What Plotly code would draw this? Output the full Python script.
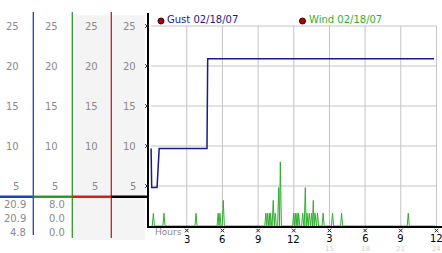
import plotly.graph_objects as go

W, H = 442, 253

# ---------------- data ----------------
gust_hours = [0.0, 0.05, 0.5, 0.68, 4.7, 4.76, 23.8]
gust_values = [9.7, 4.8, 4.8, 9.7, 9.7, 20.9, 20.9]

wind_spike_hours = [0.19, 1.08, 3.78, 5.64, 5.79, 6.07,
                    9.65, 9.78, 9.94, 10.05, 10.27, 10.44, 10.73, 10.87,
                    11.99, 12.13, 12.27, 12.41, 12.75, 12.97, 13.11, 13.3,
                    13.5, 13.64, 13.78, 14.0, 14.47, 15.26, 16.02, 21.63]
wind_spike_values = [1.6, 1.6, 1.6, 1.6, 1.6, 3.2,
                     1.6, 1.6, 1.6, 1.6, 3.2, 1.6, 4.8, 8.0,
                     1.6, 1.6, 1.6, 1.6, 1.6, 4.8, 1.6, 1.6,
                     1.6, 3.2, 1.6, 1.6, 1.6, 1.6, 1.6, 1.6]
wind_start, wind_end = 0.0, 23.9

y_ticks = [5, 10, 15, 20, 25]
hour_ticks = [3, 6, 9, 12, 15, 18, 21, 24]
hour_labels = ["3", "6", "9", "12", "3", "6", "9", "12"]
hour_labels_faint = ["", "", "", "", "15", "18", "21", "24"]

gust_stats = ["20.9", "20.9", "4.8"]
wind_stats = ["8.0", "0.0", "0.0"]
legend_names = ["Gust 02/18/07", "Wind 02/18/07"]

GUST_COLOR = "#1a1a8c"
WIND_COLOR = "#2fae2f"
GRAY_TXT = "#8a8a8a"

# build wind trace (zero baseline with spikes)
wx, wy = [wind_start], [0.0]
n = len(wind_spike_hours)
for i, (t, v) in enumerate(zip(wind_spike_hours, wind_spike_values)):
    prev_gap = t - wind_spike_hours[i - 1] if i > 0 else 1
    next_gap = wind_spike_hours[i + 1] - t if i < n - 1 else 1
    wl = min(0.09, prev_gap / 2)
    wr = min(0.09, next_gap / 2)
    if wx[-1] < t - wl:
        wx.append(t - wl); wy.append(0.0)
    wx.append(t); wy.append(v)
    wx.append(t + wr); wy.append(0.0)
wx.append(wind_end); wy.append(0.0)

# ---------------- geometry ----------------
def fx(px):
    return px / W

def fy(py):
    return 1 - py / H

x_px0 = 151.1       # pixel of hour 0
px_per_h = 11.89
y_px0 = 226.0       # pixel of value 0
px_per_u = 8.0
xr = [(149 - x_px0) / px_per_h, (W - x_px0) / px_per_h]
yr = [0, (y_px0 - 13) / px_per_u]

fig = go.Figure()
fig.add_trace(go.Scatter(x=wx, y=wy, mode="lines",
                         line=dict(color=WIND_COLOR, width=1), hoverinfo="skip"))
fig.add_trace(go.Scatter(x=gust_hours, y=gust_values, mode="lines",
                         line=dict(color=GUST_COLOR, width=1.5), hoverinfo="skip"))

shapes = []
annotations = []

def cross(px, py, r=1.8):
    return dict(type="path", xref="paper", yref="paper",
                path=(f"M {fx(px - r)},{fy(py - r)} L {fx(px + r)},{fy(py + r)} "
                      f"M {fx(px - r)},{fy(py + r)} L {fx(px + r)},{fy(py - r)}"),
                line=dict(color="#202020", width=1))

# tick marks (small crosses)
for yt in y_ticks:
    shapes.append(cross(147, y_px0 - yt * px_per_u))
for ht in hour_ticks:
    shapes.append(cross(x_px0 + ht * px_per_h, 230.5))

# grid
for yt in y_ticks:
    shapes.append(dict(type="line", xref="x", yref="y", x0=0, x1=24, y0=yt, y1=yt,
                       line=dict(color="#c4c4c4", width=1), layer="below"))
for ht in hour_ticks:
    shapes.append(dict(type="line", xref="x", yref="y", x0=ht, x1=ht, y0=0, y1=25,
                       line=dict(color="#c4c4c4", width=1), layer="below"))

# left panel background
shapes.append(dict(type="rect", xref="paper", yref="paper", x0=fx(73), x1=fx(145),
                   y0=fy(240), y1=fy(15), fillcolor="#f4f4f4", line=dict(width=0), layer="below"))
# vertical colored lines
for px, col, yb in [(33.3, "#1f3fbf", 235), (72.3, "#2a9a2a", 238), (111.3, "#c02020", 238)]:
    shapes.append(dict(type="line", xref="paper", yref="paper", x0=fx(px), x1=fx(px),
                       y0=fy(yb), y1=fy(12), line=dict(color=col, width=1.3)))
# horizontal segmented line
for x0, x1, col in [(0, 33.3, "#1f3fbf"), (33.3, 72.3, "#2a9a2a"),
                    (72.3, 111.3, "#d02020"), (111.3, 149, "#000000")]:
    shapes.append(dict(type="line", xref="paper", yref="paper", x0=fx(x0), x1=fx(x1),
                       y0=fy(196.8), y1=fy(196.8), line=dict(color=col, width=2.6)))

# left column tick labels
for right_px in [20.5, 60, 99.5, 138]:
    for yt in y_ticks:
        annotations.append(dict(xref="paper", yref="y", x=fx(right_px), y=yt,
                                text=str(yt), showarrow=False, xanchor="right", yanchor="middle",
                                font=dict(size=10, color=GRAY_TXT)))
# stats
for i, (g, w) in enumerate(zip(gust_stats, wind_stats)):
    ypx = 204.5 + i * 14
    annotations.append(dict(xref="paper", yref="paper", x=fx(27.5), y=fy(ypx), text=g,
                            showarrow=False, xanchor="right", yanchor="middle",
                            font=dict(size=10, color=GRAY_TXT)))
    annotations.append(dict(xref="paper", yref="paper", x=fx(67), y=fy(ypx), text=w,
                            showarrow=False, xanchor="right", yanchor="middle",
                            font=dict(size=10, color=GRAY_TXT)))

# legend
for cx, name, col in [(161, legend_names[0], GUST_COLOR), (302.5, legend_names[1], WIND_COLOR)]:
    shapes.append(dict(type="circle", xref="paper", yref="paper",
                       x0=fx(cx - 3), x1=fx(cx + 3), y0=fy(24), y1=fy(18),
                       fillcolor="#b00000", line=dict(color="#300000", width=1)))
    annotations.append(dict(xref="paper", yref="paper", x=fx(cx + 4), y=fy(19.5), text=name,
                            showarrow=False, xanchor="left", yanchor="middle",
                            font=dict(size=10, color=col)))

# x labels
annotations.append(dict(xref="paper", yref="paper", x=fx(152.5), y=fy(232), text="Hours",
                        showarrow=False, xanchor="left", yanchor="middle",
                        font=dict(size=9, color=GRAY_TXT)))
for ht, lab, flab in zip(hour_ticks, hour_labels, hour_labels_faint):
    if flab:
        txt = f"<span style='font-size:10px;color:black'>{lab}</span><br>{flab}"
        annotations.append(dict(xref="x", yref="paper", x=ht, y=fy(231.5), text=txt,
                                showarrow=False, xanchor="center", yanchor="top",
                                borderpad=0, font=dict(size=7, color="#d0d0d0")))
    else:
        annotations.append(dict(xref="x", yref="paper", x=ht, y=fy(239.5), text=lab,
                                showarrow=False, xanchor="center", yanchor="middle",
                                font=dict(size=10, color="black")))

fig.update_layout(
    width=W, height=H, margin=dict(l=0, r=0, t=0, b=0),
    paper_bgcolor="white", plot_bgcolor="rgba(0,0,0,0)",
    showlegend=False,
    font=dict(family="DejaVu Sans"),
    shapes=shapes, annotations=annotations,
    xaxis=dict(domain=[fx(149), 1], range=xr, showgrid=False, zeroline=False,
               showticklabels=False, ticks="", showline=True, linecolor="black", linewidth=2,
               fixedrange=True),
    yaxis=dict(domain=[fy(226), fy(13)], range=yr, showgrid=False, zeroline=False,
               showticklabels=False, ticks="", showline=True, linecolor="black", linewidth=2,
               fixedrange=True),
)

fig.write_html("out.html")
